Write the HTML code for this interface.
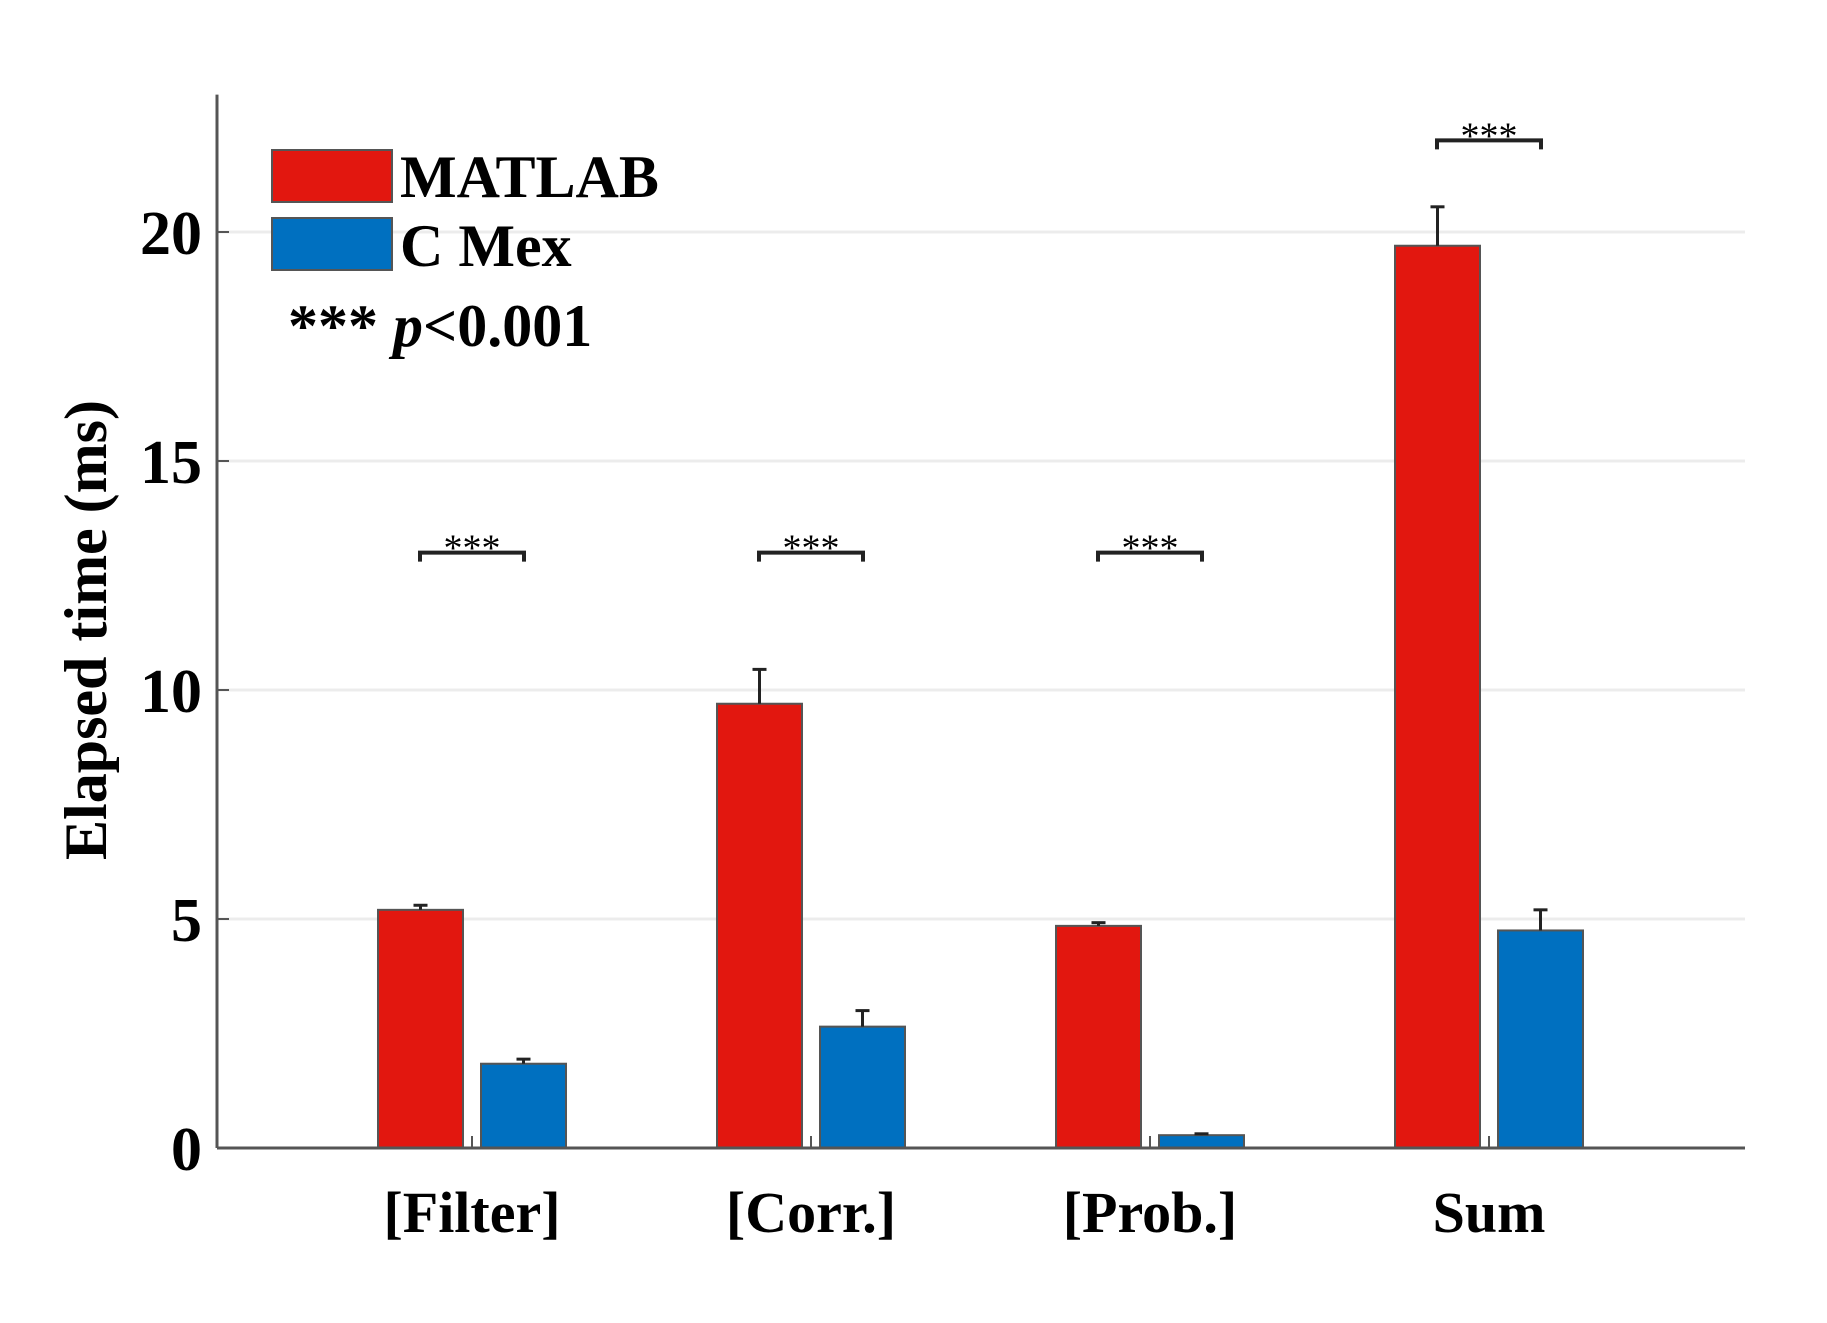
<!DOCTYPE html>
<html><head><meta charset="utf-8"><style>
body{margin:0;background:#fff;}
svg{display:block;font-family:"Liberation Serif",serif;font-weight:bold;}
</style></head><body>
<svg id="chart" width="1827" height="1323" viewBox="0 0 1827 1323" xmlns="http://www.w3.org/2000/svg">
<g id="grid"></g>
<g id="bars"></g>
<g id="axes"></g>
<g id="legend">
  <rect x="272" y="150" width="120" height="52" fill="#e2170f" stroke="#555" stroke-width="2"/>
  <text x="400" y="197" font-size="60">MATLAB</text>
  <rect x="272" y="218" width="120" height="52" fill="#0070c0" stroke="#555" stroke-width="2"/>
  <text x="400" y="266" font-size="60">C Mex</text>
  <text x="288" y="346" font-size="60">*** <tspan font-style="italic">p</tspan>&lt;0.001</text>
</g>
<text transform="translate(106,630) rotate(-90)" text-anchor="middle" font-size="60">Elapsed time (ms)</text>
</svg>
<script>
const categories=["[Filter]","[Corr.]","[Prob.]","Sum"];
const matlabValues=[5.2,9.7,4.85,19.7];
const matlabErrors=[0.1,0.75,0.07,0.85];
const cmexValues=[1.84,2.65,0.28,4.75];
const cmexErrors=[0.1,0.35,0.03,0.45];
const sigLevels=[13,13,13,22];
const sigLabels=["***","***","***","***"];
const yTicks=[0,5,10,15,20];

const NS="http://www.w3.org/2000/svg";
const x0=217,x1=1745,yBase=1148,pxPer=45.8,yMax=23.0;
const groupStart=472,groupStep=339,barW=85,gap=18;
function y(v){return yBase-v*pxPer;}
function gx(i){return groupStart+i*groupStep;}
function mk(tag,attrs,parent){const e=document.createElementNS(NS,tag);for(const k in attrs)e.setAttribute(k,attrs[k]);parent.appendChild(e);return e;}
const grid=document.getElementById('grid'),bars=document.getElementById('bars'),axes=document.getElementById('axes');

yTicks.forEach(t=>{
  if(t>0){const g=mk('line',{x1:x0,x2:x1,y1:y(t),y2:y(t),stroke:'#ececec','stroke-width':3},grid);
    
    }
  const tk=mk('line',{x1:x0,x2:x0+12,y1:y(t),y2:y(t),stroke:'#555','stroke-width':2},axes);
  
  
  const lb=mk('text',{x:202,y:y(t)+22,'text-anchor':'end','font-size':62},axes);
  lb.textContent=t;
  
  
});

function errBar(cx,top,err,name){
  const g=mk('g',{},bars);
  
  
  mk('line',{x1:cx,x2:cx,y1:y(top),y2:y(top+err),stroke:'#222','stroke-width':3},g);
  mk('line',{x1:cx-7,x2:cx+7,y1:y(top+err),y2:y(top+err),stroke:'#222','stroke-width':3},g);
}
categories.forEach((c,i)=>{
  const cx=gx(i);
  const rx=cx-gap/2-barW, bx=cx+gap/2;
  const r=mk('rect',{x:rx,y:y(matlabValues[i]),width:barW,height:matlabValues[i]*pxPer,fill:'#e2170f',stroke:'#555','stroke-width':2},bars);
  
  
  const b=mk('rect',{x:bx,y:y(cmexValues[i]),width:barW,height:cmexValues[i]*pxPer,fill:'#0070c0',stroke:'#555','stroke-width':2},bars);
  
  
  errBar(rx+barW/2,matlabValues[i],matlabErrors[i],'error-bar-matlab-'+i);
  errBar(bx+barW/2,cmexValues[i],cmexErrors[i],'error-bar-cmex-'+i);
  const tk=mk('line',{x1:cx,x2:cx,y1:yBase,y2:yBase-12,stroke:'#555','stroke-width':2},axes);
  
  
  const lb=mk('text',{x:cx,y:1232,'text-anchor':'middle','font-size':58},axes);
  lb.textContent=c;
  
  
  const sy=y(sigLevels[i]);
  const br=mk('path',{d:`M${cx-52},${sy+9} V${sy} H${cx+52} V${sy+9}`,fill:'none',stroke:'#222','stroke-width':4},bars);
  
  
  const st=mk('text',{x:cx,y:sy+8,'text-anchor':'middle','font-size':38,'font-weight':'normal'},bars);
  st.textContent=sigLabels[i];
  
  
});
const ya=mk('line',{x1:x0,x2:x0,y1:y(yMax),y2:yBase,stroke:'#555','stroke-width':3},axes);


const xa=mk('line',{x1:x0,x2:x1,y1:yBase,y2:yBase,stroke:'#555','stroke-width':3},axes);


</script>
</body></html>
